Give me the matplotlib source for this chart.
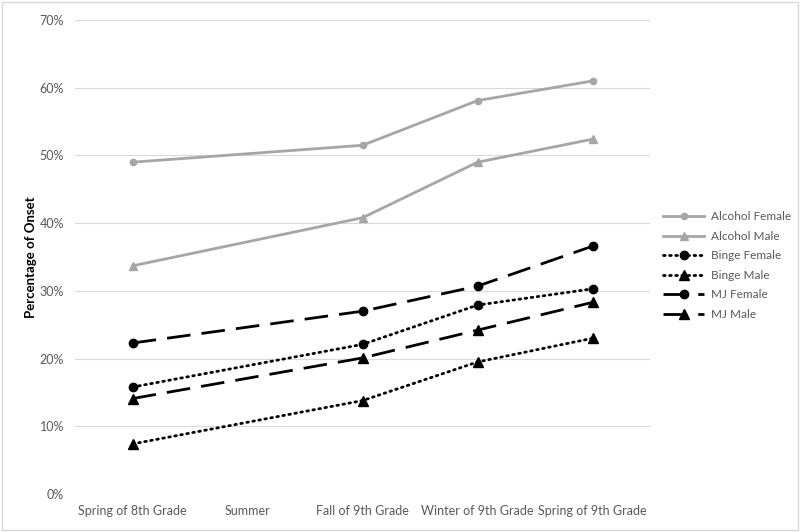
import numpy as np
import matplotlib.pyplot as plt
from matplotlib.patches import Rectangle
from matplotlib.ticker import FuncFormatter

plt.rcParams["font.family"] = ["Lato", "DejaVu Sans"]

# categories (Summer has no observations; lines pass over it)
categories = ["Spring of 8th Grade", "Summer", "Fall of 9th Grade",
              "Winter of 9th Grade", "Spring of 9th Grade"]
obs_idx = [0, 2, 3, 4]

alcohol_female = [49.0, 51.5, 58.1, 61.0]
alcohol_male   = [33.7, 40.8, 49.0, 52.4]
binge_female   = [15.8, 22.1, 27.9, 30.3]
binge_male     = [7.4, 13.8, 19.5, 23.0]
mj_female      = [22.3, 27.0, 30.7, 36.6]
mj_male        = [14.1, 20.1, 24.2, 28.3]

y_ticks = [0, 10, 20, 30, 40, 50, 60, 70]

fig = plt.figure(figsize=(8.0, 5.32), dpi=100)
ax = fig.add_axes([0.094, 0.0714, 0.7185, 0.891])

gray = "#A6A6A6"
ax.plot(obs_idx, alcohol_female, color=gray, lw=2, marker="o", ms=4.5,
        label="Alcohol Female")
ax.plot(obs_idx, alcohol_male, color=gray, lw=2, marker="^", ms=5.5,
        label="Alcohol Male")
ax.plot(obs_idx, binge_female, color="black", lw=2, ls=(0, (0.6, 1.6)),
        dash_capstyle="round", marker="o", ms=6, label="Binge Female")
ax.plot(obs_idx, binge_male, color="black", lw=2, ls=(0, (0.6, 1.6)),
        dash_capstyle="round", marker="^", ms=7, label="Binge Male")
ax.plot(obs_idx, mj_female, color="black", lw=2, ls=(0, (8.5, 4)),
        marker="o", ms=6, label="MJ Female")
ax.plot(obs_idx, mj_male, color="black", lw=2, ls=(0, (8.5, 4)),
        marker="^", ms=7, label="MJ Male")

ax.set_xlim(-0.5, len(categories) - 0.5)
ax.set_ylim(0, 70)
ax.set_xticks(range(len(categories)))
ax.set_xticklabels(categories)
ax.set_yticks(y_ticks)
ax.yaxis.set_major_formatter(FuncFormatter(lambda v, p: f"{int(v)}%"))
ax.tick_params(length=0, labelsize=9, colors="#595959", pad=8)
ax.grid(axis="y", color="#D9D9D9", lw=0.8)
ax.set_axisbelow(True)
for s in ax.spines.values():
    s.set_visible(False)
ax.set_ylabel("Percentage of Onset", fontsize=9.5, fontweight="bold",
              color="black", labelpad=2)

leg = ax.legend(loc="center left", bbox_to_anchor=(1.005, 0.482), frameon=False,
                fontsize=8.5, handlelength=3.4, handletextpad=0.6,
                labelspacing=0.72, labelcolor="#595959")

fig.patches.append(Rectangle((0.002, 0.003), 0.996, 0.994, transform=fig.transFigure,
                             fill=False, edgecolor="#D9D9D9", lw=1))

fig.savefig("out.png", dpi=100)
